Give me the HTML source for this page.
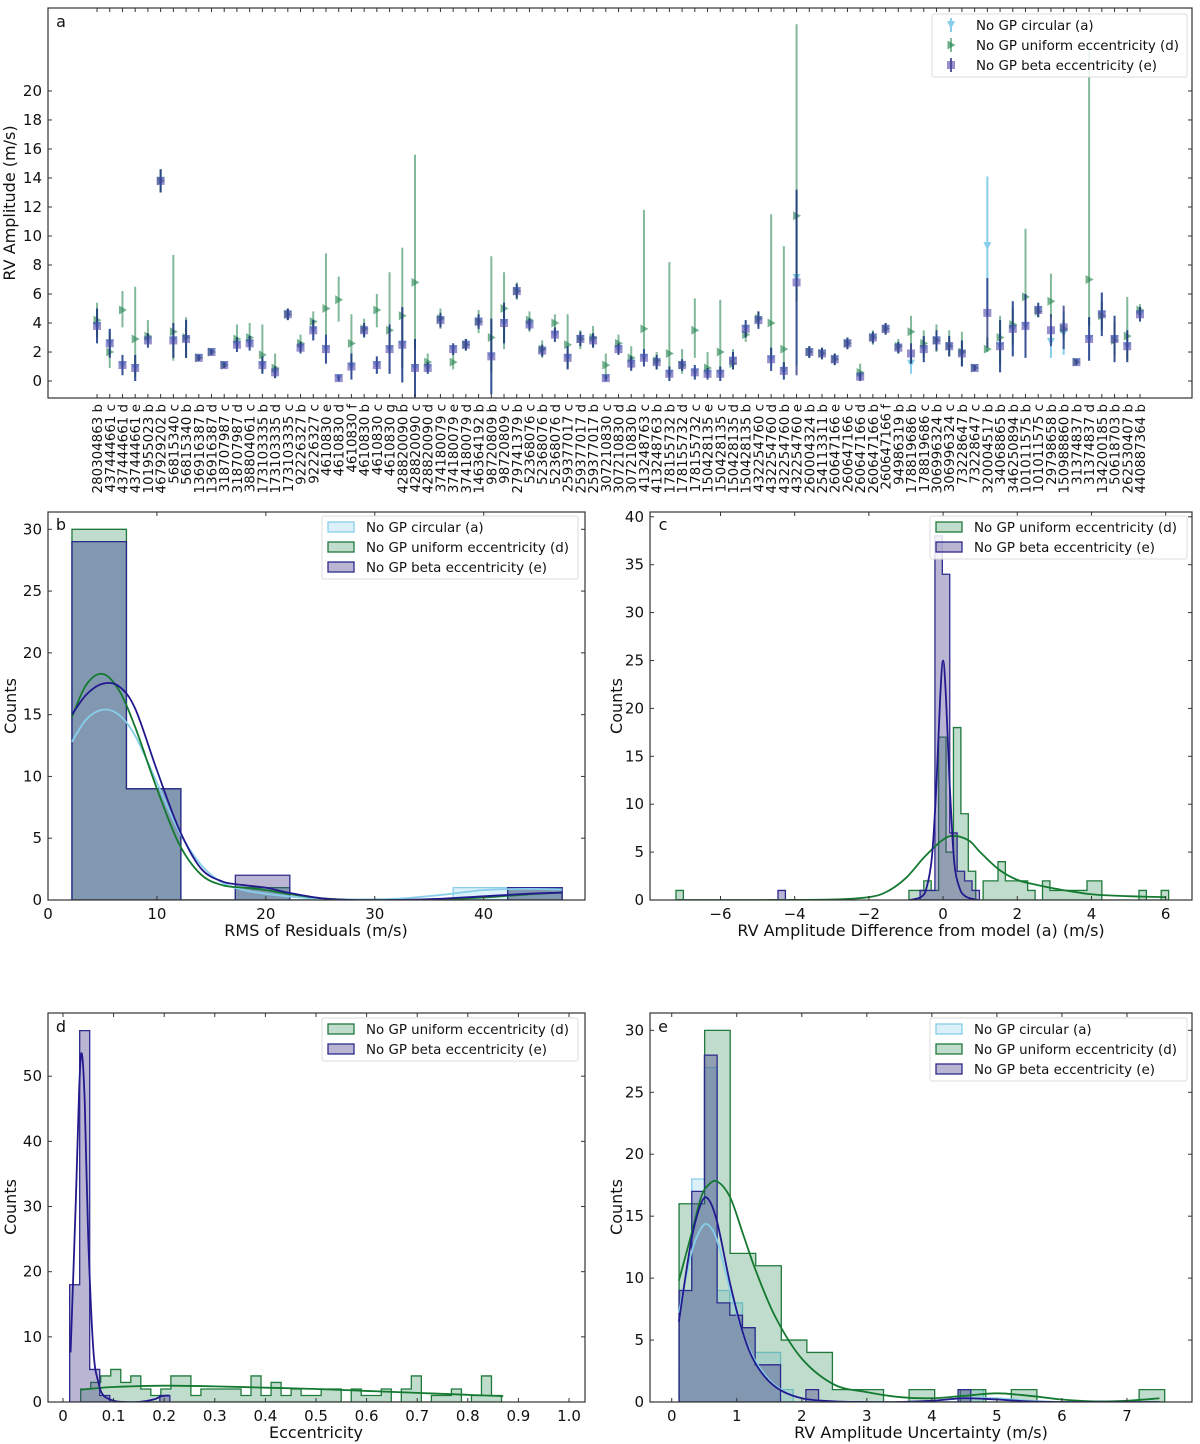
<!DOCTYPE html>
<html><head><meta charset="utf-8"><title>RV amplitude comparison</title>
<style>
html,body{margin:0;padding:0;background:#fff;}
svg{display:block;font-family:"DejaVu Sans","Liberation Sans",sans-serif;}
</style></head>
<body>
<svg id="fig" width="1200" height="1444" viewBox="0 0 1200 1444" xmlns="http://www.w3.org/2000/svg"></svg>
<script>
// ---------- Panel a data ----------
const planetLabels = ["280304863 b","437444661 c","437444661 d","437444661 e","101955023 b","467929202 b","56815340 c","56815340 b","136916387 b","136916387 d",
"318707987 c","318707987 d","388804061 c","173103335 b","173103335 d","173103335 c","92226327 b","92226327 c","4610830 e","4610830 d",
"4610830 f","4610830 b","4610830 c","4610830 g","428820090 b","428820090 c","428820090 d","374180079 c","374180079 e","374180079 d",
"146364192 b","98720809 b","98720809 c","279741379 b","52368076 c","52368076 b","52368076 d","259377017 c","259377017 d","259377017 b",
"307210830 c","307210830 d","307210830 b","413248763 c","413248763 b","178155732 b","178155732 d","178155732 c","150428135 e","150428135 c",
"150428135 d","150428135 b","432254760 c","432254760 d","432254760 b","432254760 e","260004324 b","254113311 b","260647166 e","260647166 c",
"260647166 d","260647166 b","260647166 f","94986319 b","178819686 b","178819686 c","306996324 b","306996324 c","73228647 b","73228647 c",
"320004517 b","34068865 b","346250894 b","101011575 b","101011575 c","29798658 b","150988860 b","31374837 b","31374837 d","134200185 b",
"50618703 b","262530407 b","440887364 b"];
const betaVal = [3.8,2.6,1.1,0.9,2.8,13.8,2.8,2.9,1.6,2.0, 1.1,2.5,2.6,1.1,0.6,4.6,2.3,3.5,2.2,0.2, 1.0,3.5,1.1,2.2,2.5,0.9,0.9,4.2,2.2,2.5,
4.1,1.7,4.0,6.2,3.9,2.1,3.2,1.6,2.9,2.8, 0.2,2.2,1.2,1.6,1.3,0.5,1.1,0.6,0.5,0.5, 1.4,3.6,4.2,1.5,0.7,6.8,2.0,1.9,1.5,2.6,
0.3,3.0,3.6,2.3,1.9,2.2,2.8,2.4,1.9,0.9, 4.7,2.4,3.6,3.8,4.9,3.5,3.7,1.3,2.9,4.6, 2.9,2.4,4.6];
const betaErr = [1.2,1.0,0.7,0.9,0.5,0.8,1.2,1.3,0.2,0.2, 0.2,0.5,0.5,0.6,0.4,0.4,0.4,0.7,1.0,0.2, 0.9,0.5,0.6,1.7,2.6,2.0,0.4,0.5,0.4,0.4,
0.5,2.6,1.4,0.5,0.4,0.4,0.5,0.8,0.5,0.5, 0.2,0.4,0.5,0.6,0.5,0.5,0.4,0.5,0.4,0.5, 0.6,0.6,0.6,0.8,0.6,6.4,0.4,0.4,0.4,0.4,
0.3,0.4,0.4,0.4,0.7,0.9,0.7,0.7,0.9,0.2, 2.4,1.8,1.9,2.2,0.5,1.1,1.5,0.2,1.5,1.5, 1.6,1.1,0.5];
const uniVal = [4.2,2.0,4.9,2.9,3.1,13.8,3.4,3.0,1.6,2.0, 1.1,2.9,3.0,1.8,0.9,4.6,2.6,4.1,5.0,5.6, 2.6,3.6,4.9,3.5,4.5,6.8,1.3,4.3,1.3,2.5,
4.1,3.0,5.0,6.2,4.2,2.2,4.0,2.5,2.9,3.0, 1.1,2.6,1.6,3.6,1.4,1.9,1.1,3.5,0.9,2.0, 1.2,3.2,4.3,4.0,2.2,11.4,2.0,1.9,1.5,2.6,
0.6,3.0,3.6,2.4,3.4,2.6,2.8,2.4,2.0,0.9, 2.2,3.0,3.9,5.8,4.8,5.5,3.6,1.3,7.0,4.5, 2.8,3.1,4.9];
const uniLo = [3.0,0.9,3.7,0.3,2.6,13.0,1.4,1.6,1.4,1.8, 0.9,2.3,2.4,0.6,0.2,4.2,2.0,3.4,3.2,4.1, 0.9,3.1,3.7,2.2,0.9,2.2,0.7,3.6,0.8,2.1,
3.3,0.6,2.2,5.6,3.4,1.6,3.3,0.9,2.2,2.3, 0.2,1.9,0.9,2.2,0.8,0.3,0.5,1.6,0.3,0.6, 0.8,2.7,3.8,1.8,0.6,5.5,1.6,1.5,1.1,2.2,
0.1,2.5,3.2,1.9,1.2,1.6,2.0,1.7,1.0,0.7, 2.0,1.2,2.5,3.6,4.4,4.4,3.0,1.1,3.8,3.5, 1.8,1.5,4.4];
const uniHi = [5.4,3.4,6.2,6.5,4.2,14.6,8.7,4.4,1.8,2.2, 1.3,3.9,4.0,3.9,1.9,5.0,3.2,4.8,8.8,7.2, 4.6,4.3,6.0,7.5,9.2,15.6,1.9,5.0,1.9,2.9,
4.9,8.6,7.5,6.8,4.8,2.8,4.6,4.6,3.5,3.8, 1.9,3.2,2.4,11.8,2.0,8.2,2.2,5.7,2.0,5.6, 2.2,3.9,4.8,11.5,9.3,24.6,2.4,2.3,1.9,3.0,
1.2,3.5,4.0,2.9,4.5,3.5,3.9,3.5,3.4,1.1, 3.0,4.5,5.0,10.5,5.2,7.4,4.2,1.5,22.8,5.5, 4.1,5.8,5.3];
const circVal = [3.8,2.6,1.1,0.9,2.8,13.8,2.8,2.9,1.6,2.0, 1.1,2.5,2.6,1.1,0.6,4.6,2.3,3.5,2.2,0.2, 1.0,3.5,1.1,2.2,2.5,0.9,0.9,4.2,2.2,2.5,
4.1,1.7,4.0,6.2,3.9,2.1,3.2,1.6,2.9,2.8, 0.2,2.2,1.2,1.6,1.3,0.5,1.1,0.6,0.5,0.5, 1.4,3.6,4.2,1.5,0.7,7.1,2.0,1.9,1.5,2.6,
0.3,3.0,3.6,2.3,1.2,2.2,2.8,2.4,1.9,0.9, 9.3,2.4,3.6,3.8,4.9,2.7,3.3,1.3,2.9,4.6, 2.9,2.4,4.6];
const circErr = [1.2,1.0,0.7,0.9,0.5,0.8,1.2,1.3,0.2,0.2, 0.2,0.5,0.5,0.6,0.4,0.4,0.4,0.7,1.0,0.2, 0.9,0.5,0.6,1.7,2.6,2.0,0.4,0.5,0.4,0.4,
0.5,2.6,1.4,0.5,0.4,0.4,0.5,0.8,0.5,0.5, 0.2,0.4,0.5,0.6,0.5,0.5,0.4,0.5,0.4,0.5, 0.6,0.6,0.6,0.8,0.6,6.0,0.4,0.4,0.4,0.4,
0.3,0.4,0.4,0.4,0.7,0.9,0.7,0.7,0.9,0.2, 4.8,1.8,1.9,2.2,0.5,1.1,1.5,0.2,1.5,1.5, 1.6,1.1,0.5];
const aTicks = [0,2,4,6,8,10,12,14,16,18,20];

// ---------- Panel b data (RMS of residuals) ----------
const rmsBinStart = 2.2, rmsBinWidth = 5;
const rmsCountsA = [29,9,0,1,0,0,0,1,1];
const rmsCountsD = [30,9,0,1,0,0,0,0,1];
const rmsCountsE = [29,9,0,2,0,0,0,0,1];
const rmsKdeX = [2.2,3.5,5,6.5,8,10,12,14,16,18,20,22,25,28,32,36,40,44,47.2];
const rmsKdeA = [12.8,14.6,15.4,15,13.3,9.5,5.6,2.9,1.4,0.8,0.5,0.3,0.1,0.05,0.1,0.4,0.8,0.9,0.85];
const rmsKdeD = [14.8,17.4,18.3,17,14,9,4.6,2.1,1.2,1.0,0.8,0.5,0.15,0,0,0.05,0.2,0.45,0.6];
const rmsKdeE = [15,16.6,17.5,17.3,15.5,10.5,5.8,2.6,1.5,1.2,1.0,0.6,0.15,0,0,0.1,0.3,0.5,0.6];

// ---------- Panel c data (difference from model a) ----------
const diffBinWidth = 0.2;
const diffStartD = -0.92;
const diffCountsD = [1,1,2,1,17,5,18,9,3,0,2,2,4,2,2,2,1,0,2,1,1,1,1,1,2,2,0,0,0,0,0,1,0,0,1];
const diffOutlierD = [-7.2, 1];
const diffStartE = -0.62;
const diffCountsE = [1,1,38,34,7,3,2,1];
const diffOutlierE = [-4.45, 1];
const diffKdeDX = [-7.2,-5,-3,-2,-1.5,-1,-0.5,0,0.3,0.7,1,1.5,2,2.5,3,4,5,6];
const diffKdeDY = [0,0,0.05,0.3,0.9,2.3,4.5,6.3,6.7,6.2,5,3.2,2.1,1.6,1.2,0.6,0.4,0.3];
const diffKdeEX = [-0.9,-0.6,-0.45,-0.3,-0.18,-0.08,0,0.08,0.18,0.3,0.45,0.6,0.8,0.95];
const diffKdeEY = [0,0.3,1.2,4.5,12,21,25,21,12,4,1.2,0.4,0.1,0];

// ---------- Panel d data (eccentricity) ----------
const eccBinWidth = 0.0198;
const eccStartE = 0.0132;
const eccCountsE = [18,57,5,1,0,0,0,0,0,1];
const eccStartD = 0.035;
const eccCountsD = [2,3,4,5,3,4,2,1,2,4,4,1,2,2,2,2,1,4,1,3,1,2,1,1,2,2,0,2,1,1,2,0,2,4,0,1,1,2,0,1,4,1];
const eccKdeEX = [0.015,0.025,0.032,0.037,0.043,0.05,0.06,0.07,0.08,0.1,0.12,0.15,0.18,0.195,0.21];
const eccKdeEY = [7.6,30,48,53.5,46,25,8,3,1,0.2,0,0,0.4,0.9,1];
const eccKdeDX = [0.035,0.1,0.2,0.3,0.4,0.5,0.6,0.7,0.8,0.87];
const eccKdeDY = [1.9,2.3,2.5,2.4,2.2,2.0,1.7,1.4,1.1,0.9];

// ---------- Panel e data (uncertainty) ----------
const uncStart = 0.113;
const uncWidthAE = 0.195;
const uncCountsA = [9,18,27,9,8,6,4,4,1,0,0,0,0,0,0,0,0,0,0,0,0,0,1,1];
const uncCountsE = [9,17,28,8,7,6,3,3,0,0,1,0,0,0,0,0,0,0,0,0,0,0,1];
const uncWidthD = 0.393;
const uncCountsD = [16,30,12,11,5,4,1,1,0,1,0,1,0,1,0,0,0,0,1];
const uncKdeX = [0.11,0.3,0.45,0.56,0.7,0.9,1.1,1.3,1.6,2,2.5,3,3.5,4,4.5,5,5.5,6,6.5,7,7.5];
const uncKdeA = [7.2,12,14,14.3,13,9,5.5,3.2,1.3,0.3,0.05,0,0,0.1,0.3,0.3,0.1,0,0,0,0];
const uncKdeE = [6.5,13,16,16.4,14.5,9.5,5.5,3,1.2,0.3,0.05,0,0,0.1,0.3,0.2,0.05,0,0,0,0];
const uncKdeD = [9.8,13.5,16.5,17.5,17.8,16.5,13.5,10.5,6.8,3.5,1.4,0.8,0.4,0.3,0.5,0.7,0.5,0.2,0.05,0.1,0.3];

// ---------- helpers ----------
const NS = "http://www.w3.org/2000/svg";
const svg = document.getElementById("fig");
function mk(tag, attrs, parent, text){
  const e = document.createElementNS(NS, tag);
  for (const k in attrs) e.setAttribute(k, attrs[k]);
  if (text !== undefined) e.textContent = text;
  (parent || svg).appendChild(e);
  return e;
}
const COL = {
  aFill:"rgba(135,206,235,0.3)", aLine:"#87ceeb",
  dFill:"rgba(46,139,87,0.3)", dLine:"#1f7a3c", dKde:"#137a30",
  eFill:"rgba(72,61,139,0.38)", eLine:"#2e2a8c", eKde:"#22198e"
};
function makeAxes(name, x0, x1, y0, y1, xmin, xmax, ymin, ymax){
  const g = mk("g", {});
  
  
  const sx = v => x0 + (v - xmin) / (xmax - xmin) * (x1 - x0);
  const sy = v => y1 - (v - ymin) / (ymax - ymin) * (y1 - y0);
  const clip = mk("clipPath", {id: name + "-clip"}, g);
  mk("rect", {x:x0, y:y0, width:x1-x0, height:y1-y0}, clip);
  const plot = mk("g", {"clip-path":"url(#" + name + "-clip)"}, g);
  return {g, plot, sx, sy, x0, x1, y0, y1};
}
function frame(ax){
  const r = mk("rect", {x:ax.x0, y:ax.y0, width:ax.x1-ax.x0, height:ax.y1-ax.y0, fill:"none", stroke:"#333", "stroke-width":1.2}, ax.g);
  
  
}
function xTicks(ax, vals, labels, name){
  const g = mk("g", {}, ax.g);
  
  
  vals.forEach((v, i) => {
    const x = ax.sx(v);
    mk("line", {x1:x, x2:x, y1:ax.y1, y2:ax.y1-4, stroke:"#333"}, g);
    mk("line", {x1:x, x2:x, y1:ax.y0, y2:ax.y0+4, stroke:"#333"}, g);
    if (labels) {
      const t = mk("text", {x:x, y:ax.y1+19, "font-size":15, "text-anchor":"middle", fill:"#111"}, g, labels[i]);
      
      
    }
  });
}
function yTicks(ax, vals, name){
  const g = mk("g", {}, ax.g);
  
  
  vals.forEach(v => {
    const y = ax.sy(v);
    mk("line", {x1:ax.x0, x2:ax.x0+4, y1:y, y2:y, stroke:"#333"}, g);
    mk("line", {x1:ax.x1, x2:ax.x1-4, y1:y, y2:y, stroke:"#333"}, g);
    const t = mk("text", {x:ax.x0-6, y:y+5, "font-size":15, "text-anchor":"end", fill:"#111"}, g, String(v));
    
    
  });
}
function label(text, x, y, rot, name, size){
  const t = mk("text", {x:x, y:y, "font-size":size||16, "text-anchor":"middle", fill:"#111",
    transform: rot ? "rotate(-90 " + x + " " + y + ")" : ""}, svg, text);
  
  
}
function hist(ax, start, width, counts, fill, stroke, name){
  const base = ax.sy(0);
  let d = "M" + ax.sx(start) + "," + base;
  counts.forEach((c, i) => {
    const xl = ax.sx(start + i*width), xr = ax.sx(start + (i+1)*width), y = ax.sy(c);
    d += " L" + xl + "," + y + " L" + xr + "," + y;
  });
  d += " L" + ax.sx(start + counts.length*width) + "," + base + " Z";
  const p = mk("path", {d:d, fill:fill, stroke:stroke, "stroke-width":1.3}, ax.plot);
  
  
}
function curve(ax, xs, ys, color, name){
  const pts = xs.map((x, i) => [ax.sx(x), ax.sy(ys[i])]);
  let d = "M" + pts[0][0] + "," + pts[0][1];
  for (let i = 0; i < pts.length - 1; i++){
    const p0 = pts[i-1] || pts[i], p1 = pts[i], p2 = pts[i+1], p3 = pts[i+2] || p2;
    const c1 = [p1[0] + (p2[0]-p0[0])/6, p1[1] + (p2[1]-p0[1])/6];
    const c2 = [p2[0] - (p3[0]-p1[0])/6, p2[1] - (p3[1]-p1[1])/6];
    d += " C" + c1[0] + "," + c1[1] + " " + c2[0] + "," + c2[1] + " " + p2[0] + "," + p2[1];
  }
  const p = mk("path", {d:d, fill:"none", stroke:color, "stroke-width":1.8}, ax.plot);
  
  
}
function legend(x, y, w, entries, name){
  const g = mk("g", {});
  
  
  mk("rect", {x:x, y:y, width:w, height:entries.length*20+3, fill:"rgba(255,255,255,0.85)", stroke:"#ddd", rx:2}, g);
  entries.forEach((en, i) => {
    const cy = y + 11 + i*20;
    const item = mk("g", {}, g);
    
    
    if (en.marker) en.marker(item, x + 22, cy);
    else mk("rect", {x:x+6, y:cy-5, width:26, height:10, fill:en.fill, stroke:en.stroke, "stroke-width":1.3}, item);
    mk("text", {x:x+44, y:cy+5, "font-size":13.4, fill:"#111"}, item, en.text);
  });
}

// ---------- Panel a ----------
const A = makeAxes("panel-a", 48, 1192, 8, 398, -2.855, 87.09, -1.17, 25.72);
frame(A);
yTicks(A, aTicks, "y-axis-ticks-a");
const catIdx = planetLabels.map((_, i) => i + 1);
xTicks(A, catIdx, null, "x-axis-ticks-a");
planetLabels.forEach((lab, i) => {
  const x = A.sx(i + 1) + 5, y = A.y1 + 6;
  const t = mk("text", {x:x, y:y, "font-size":13.4, "text-anchor":"end", fill:"#111", transform:"rotate(-90 " + x + " " + y + ")"}, A.g, lab);
  
  
});
function triDown(g, x, y, c){ return mk("path", {d:"M"+(x-4)+","+(y-4)+" L"+(x+4)+","+(y-4)+" L"+x+","+(y+4)+" Z", fill:c}, g); }
function triRight(g, x, y, c){ return mk("path", {d:"M"+(x-3.5)+","+(y-4.5)+" L"+(x+4.5)+","+y+" L"+(x-3.5)+","+(y+4.5)+" Z", fill:c}, g); }
function square(g, x, y, c){ return mk("rect", {x:x-4, y:y-4, width:8, height:8, fill:c}, g); }
const serA = mk("g", {}, A.plot);


const serD = mk("g", {}, A.plot);


const serE = mk("g", {}, A.plot);


catIdx.forEach((c, i) => {
  const x = A.sx(c);
  mk("line", {x1:x, x2:x, y1:A.sy(circVal[i]-circErr[i]), y2:A.sy(circVal[i]+circErr[i]), stroke:"#87ceeb", "stroke-width":2}, serA);
  triDown(serA, x, A.sy(circVal[i]), "#87ceeb");
  mk("line", {x1:x, x2:x, y1:A.sy(uniLo[i]), y2:A.sy(uniHi[i]), stroke:"rgba(46,139,87,0.6)", "stroke-width":2}, serD);
  triRight(serD, x, A.sy(uniVal[i]), "rgba(46,139,87,0.65)");
  mk("line", {x1:x, x2:x, y1:A.sy(betaVal[i]-betaErr[i]), y2:A.sy(betaVal[i]+betaErr[i]), stroke:"rgba(30,40,120,0.75)", "stroke-width":2}, serE);
  square(serE, x, A.sy(betaVal[i]), "rgba(80,70,170,0.6)");
});
legend(932, 14, 255, [
  {text:"No GP circular (a)", marker:(g,x,y)=>{mk("line",{x1:x-3,x2:x-3,y1:y-7,y2:y+7,stroke:"#87ceeb","stroke-width":2},g);triDown(g,x-3,y,"#87ceeb");}},
  {text:"No GP uniform eccentricity (d)", marker:(g,x,y)=>{mk("line",{x1:x-3,x2:x-3,y1:y-7,y2:y+7,stroke:"rgba(46,139,87,0.6)","stroke-width":2},g);triRight(g,x-3,y,"rgba(46,139,87,0.7)");}},
  {text:"No GP beta eccentricity (e)", marker:(g,x,y)=>{mk("line",{x1:x-3,x2:x-3,y1:y-7,y2:y+7,stroke:"rgba(30,40,120,0.75)","stroke-width":2},g);square(g,x-3,y,"rgba(80,70,170,0.6)");}}
], "legend-a");
label("a", 61, 27, false, "panel-label-a", 16);
label("RV Amplitude (m/s)", 15, 203, true, "y-axis-title-a", 16);

// ---------- Panel b ----------
const B = makeAxes("panel-b", 48, 585, 512, 900, 0, 49.3, 0, 31.4);
hist(B, rmsBinStart, rmsBinWidth, rmsCountsA, COL.aFill, COL.aLine, "hist-rms-circular");
hist(B, rmsBinStart, rmsBinWidth, rmsCountsD, COL.dFill, COL.dLine, "hist-rms-uniform");
hist(B, rmsBinStart, rmsBinWidth, rmsCountsE, COL.eFill, COL.eLine, "hist-rms-beta");
curve(B, rmsKdeX, rmsKdeA, COL.aLine, "kde-rms-circular");
curve(B, rmsKdeX, rmsKdeD, COL.dKde, "kde-rms-uniform");
curve(B, rmsKdeX, rmsKdeE, COL.eKde, "kde-rms-beta");
frame(B);
xTicks(B, [0,10,20,30,40], ["0","10","20","30","40"], "x-axis-ticks-b");
yTicks(B, [0,5,10,15,20,25,30], "y-axis-ticks-b");
legend(322, 516, 256, [
  {text:"No GP circular (a)", fill:COL.aFill, stroke:COL.aLine},
  {text:"No GP uniform eccentricity (d)", fill:COL.dFill, stroke:COL.dLine},
  {text:"No GP beta eccentricity (e)", fill:COL.eFill, stroke:COL.eLine}], "legend-b");
label("b", 61, 530, false, "panel-label-b", 16);
label("RMS of Residuals (m/s)", 316, 936, false, "x-axis-title-b", 16);
label("Counts", 16, 706, true, "y-axis-title-b", 16);

// ---------- Panel c ----------
const C = makeAxes("panel-c", 650, 1192, 512, 900, -7.9, 6.71, 0, 40.5);
hist(C, diffStartD, diffBinWidth, diffCountsD, COL.dFill, COL.dLine, "hist-diff-uniform");
hist(C, diffOutlierD[0], diffBinWidth, [diffOutlierD[1]], COL.dFill, COL.dLine, "hist-diff-uniform-outlier");
hist(C, diffStartE, diffBinWidth, diffCountsE, COL.eFill, COL.eLine, "hist-diff-beta");
hist(C, diffOutlierE[0], diffBinWidth, [diffOutlierE[1]], COL.eFill, COL.eLine, "hist-diff-beta-outlier");
curve(C, diffKdeDX, diffKdeDY, COL.dKde, "kde-diff-uniform");
curve(C, diffKdeEX, diffKdeEY, COL.eKde, "kde-diff-beta");
frame(C);
xTicks(C, [-6,-4,-2,0,2,4,6], ["\u22126","\u22124","\u22122","0","2","4","6"], "x-axis-ticks-c");
yTicks(C, [0,5,10,15,20,25,30,35,40], "y-axis-ticks-c");
legend(930, 516, 257, [
  {text:"No GP uniform eccentricity (d)", fill:COL.dFill, stroke:COL.dLine},
  {text:"No GP beta eccentricity (e)", fill:COL.eFill, stroke:COL.eLine}], "legend-c");
label("c", 663, 530, false, "panel-label-c", 16);
label("RV Amplitude Difference from model (a) (m/s)", 921, 936, false, "x-axis-title-c", 16);
label("Counts", 622, 706, true, "y-axis-title-c", 16);

// ---------- Panel d ----------
const D = makeAxes("panel-d", 48, 585, 1013, 1402, -0.0296, 1.0316, 0, 59.7);
hist(D, eccStartD, eccBinWidth, eccCountsD, COL.dFill, COL.dLine, "hist-ecc-uniform");
hist(D, eccStartE, eccBinWidth, eccCountsE, COL.eFill, COL.eLine, "hist-ecc-beta");
curve(D, eccKdeDX, eccKdeDY, COL.dKde, "kde-ecc-uniform");
curve(D, eccKdeEX, eccKdeEY, COL.eKde, "kde-ecc-beta");
frame(D);
xTicks(D, [0,0.1,0.2,0.3,0.4,0.5,0.6,0.7,0.8,0.9,1.0], ["0","0.1","0.2","0.3","0.4","0.5","0.6","0.7","0.8","0.9","1.0"], "x-axis-ticks-d");
yTicks(D, [0,10,20,30,40,50], "y-axis-ticks-d");
legend(322, 1018, 256, [
  {text:"No GP uniform eccentricity (d)", fill:COL.dFill, stroke:COL.dLine},
  {text:"No GP beta eccentricity (e)", fill:COL.eFill, stroke:COL.eLine}], "legend-d");
label("d", 61, 1032, false, "panel-label-d", 16);
label("Eccentricity", 316, 1438, false, "x-axis-title-d", 16);
label("Counts", 16, 1207, true, "y-axis-title-d", 16);

// ---------- Panel e ----------
const E = makeAxes("panel-e", 650, 1192, 1013, 1402, -0.334, 8.0, 0, 31.4);
hist(E, uncStart, uncWidthAE, uncCountsA, COL.aFill, COL.aLine, "hist-unc-circular");
hist(E, uncStart, uncWidthD, uncCountsD, COL.dFill, COL.dLine, "hist-unc-uniform");
hist(E, uncStart, uncWidthAE, uncCountsE, COL.eFill, COL.eLine, "hist-unc-beta");
curve(E, uncKdeX, uncKdeA, COL.aLine, "kde-unc-circular");
curve(E, uncKdeX, uncKdeD, COL.dKde, "kde-unc-uniform");
curve(E, uncKdeX, uncKdeE, COL.eKde, "kde-unc-beta");
frame(E);
xTicks(E, [0,1,2,3,4,5,6,7], ["0","1","2","3","4","5","6","7"], "x-axis-ticks-e");
yTicks(E, [0,5,10,15,20,25,30], "y-axis-ticks-e");
legend(930, 1018, 257, [
  {text:"No GP circular (a)", fill:COL.aFill, stroke:COL.aLine},
  {text:"No GP uniform eccentricity (d)", fill:COL.dFill, stroke:COL.dLine},
  {text:"No GP beta eccentricity (e)", fill:COL.eFill, stroke:COL.eLine}], "legend-e");
label("e", 663, 1032, false, "panel-label-e", 16);
label("RV Amplitude Uncertainty (m/s)", 921, 1438, false, "x-axis-title-e", 16);
label("Counts", 622, 1207, true, "y-axis-title-e", 16);
</script>
</body></html>
